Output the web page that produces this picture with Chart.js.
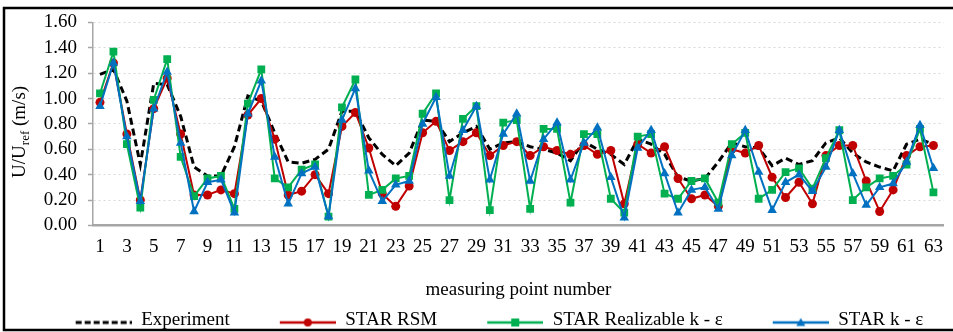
<!DOCTYPE html>
<html lang="en">
<head>
  <meta charset="UTF-8">
  <title>U/Uref along measuring points</title>
  <script src="https://cdn.jsdelivr.net/npm/chart.js"></script>
  <style>
    html, body { margin: 0; padding: 0; background: #fff; }
    #wrap { width: 953px; height: 332px; }
  </style>
</head>
<body>
  <div id="wrap"><canvas id="myChart" width="953" height="332"></canvas></div>

  <script>
    // measuring point numbers 1..63 and the odd ones shown on the axis
    const points = Array.from({ length: 63 }, (_, i) => i + 1);
    const xTicks = points.filter(p => p % 2 === 1);
    const yTicks = [0, 0.2, 0.4, 0.6, 0.8, 1.0, 1.2, 1.4, 1.6];

    const experiment = [
      1.19, 1.23, 0.98, 0.48, 1.12, 1.11, 0.86, 0.46, 0.39, 0.39,
      0.62, 1.02, 0.98, 0.73, 0.50, 0.49, 0.52, 0.60, 0.90, 0.90,
      0.69, 0.56, 0.47, 0.57, 0.83, 0.82, 0.66, 0.73, 0.78, 0.60,
      0.65, 0.66, 0.62, 0.60, 0.57, 0.51, 0.66, 0.60, 0.56, 0.48,
      0.68, 0.64, 0.56, 0.38, 0.35, 0.37, 0.50, 0.65, 0.62, 0.61,
      0.47, 0.53, 0.48, 0.51, 0.65, 0.69, 0.57, 0.50, 0.46, 0.43,
      0.64, 0.68, 0.64
    ];
    const starRsm = [
      0.97, 1.28, 0.72, 0.20, 0.92, 1.16, 0.72, 0.24, 0.24, 0.28,
      0.25, 0.87, 1.00, 0.68, 0.24, 0.27, 0.40, 0.25, 0.78, 0.89,
      0.61, 0.25, 0.15, 0.31, 0.73, 0.82, 0.59, 0.66, 0.73, 0.55,
      0.63, 0.66, 0.55, 0.62, 0.59, 0.56, 0.63, 0.56, 0.59, 0.17,
      0.64, 0.57, 0.62, 0.37, 0.21, 0.24, 0.15, 0.60, 0.57, 0.63,
      0.38, 0.22, 0.34, 0.17, 0.55, 0.63, 0.63, 0.35, 0.11, 0.28,
      0.55, 0.62, 0.63
    ];
    const starRealizable = [
      1.04, 1.37, 0.64, 0.14, 0.99, 1.31, 0.54, 0.23, 0.37, 0.39,
      0.13, 0.96, 1.23, 0.37, 0.30, 0.44, 0.48, 0.07, 0.93, 1.15,
      0.24, 0.28, 0.37, 0.39, 0.88, 1.04, 0.20, 0.84, 0.94, 0.12,
      0.81, 0.83, 0.13, 0.76, 0.76, 0.18, 0.72, 0.72, 0.21, 0.10,
      0.70, 0.72, 0.25, 0.21, 0.35, 0.37, 0.18, 0.64, 0.73, 0.21,
      0.28, 0.42, 0.45, 0.29, 0.53, 0.75, 0.20, 0.30, 0.37, 0.39,
      0.48, 0.76, 0.26
    ];
    const starKe = [
      0.94, 1.28, 0.70, 0.19, 0.92, 1.21, 0.65, 0.11, 0.34, 0.36,
      0.10, 0.88, 1.14, 0.54, 0.17, 0.41, 0.46, 0.07, 0.83, 1.08,
      0.43, 0.19, 0.32, 0.35, 0.80, 1.01, 0.39, 0.75, 0.94, 0.36,
      0.72, 0.88, 0.35, 0.68, 0.81, 0.36, 0.65, 0.77, 0.38, 0.06,
      0.61, 0.75, 0.41, 0.10, 0.28, 0.30, 0.13, 0.55, 0.75, 0.42,
      0.12, 0.34, 0.40, 0.27, 0.46, 0.75, 0.41, 0.16, 0.30, 0.33,
      0.50, 0.79, 0.45
    ];

    const RED = '#C00000';
    const GREEN = '#00B050';
    const BLUE = '#0070C0';
    const FONT = '"Liberation Serif", "Times New Roman", serif';

    const xy = arr => arr.map((v, i) => ({ x: points[i], y: v }));

    // legend symbol: blank lead-in, then a short line with the marker in its middle
    const ICON_W = 102, LINE_W = 56;
    function legendIcon(color, marker, dashed) {
      const c = document.createElement('canvas');
      c.width = ICON_W; c.height = 16;
      const g = c.getContext('2d');
      const x0 = ICON_W - LINE_W, cx = x0 + LINE_W / 2, cy = 10;
      g.strokeStyle = color;
      g.fillStyle = color;
      g.lineWidth = dashed ? 3 : 2.5;
      if (dashed) g.setLineDash([6, 3]);
      g.beginPath(); g.moveTo(x0, cy); g.lineTo(ICON_W, cy); g.stroke();
      g.setLineDash([]);
      g.beginPath();
      if (marker === 'circle') g.arc(cx, cy, 4, 0, Math.PI * 2);
      if (marker === 'rect') g.rect(cx - 4, cy - 4, 8, 8);
      if (marker === 'triangle') { g.moveTo(cx, cy - 4.5); g.lineTo(cx + 4.5, cy + 3.5); g.lineTo(cx - 4.5, cy + 3.5); g.closePath(); }
      if (marker) g.fill();
      return c;
    }

    // outer frame (top, left, bottom) and white background
    const framePlugin = {
      id: 'frame',
      beforeDraw(chart) {
        const ctx = chart.ctx;
        ctx.save();
        ctx.fillStyle = '#fff';
        ctx.fillRect(0, 0, chart.width, chart.height);
        ctx.strokeStyle = '#000';
        ctx.lineWidth = 2.5;
        ctx.beginPath();
        ctx.moveTo(chart.width, 8);
        ctx.lineTo(4, 8);
        ctx.lineTo(4, 330);
        ctx.lineTo(chart.width, 330);
        ctx.stroke();
        ctx.restore();
      }
    };

    // rotated y title with a subscript "ref"
    const yTitlePlugin = {
      id: 'yTitle',
      afterDraw(chart) {
        const ctx = chart.ctx;
        const area = chart.chartArea;
        const parts = [
          { t: 'U/U', size: 19, dy: 0 },
          { t: 'ref', size: 13, dy: 4 },
          { t: ' (m/s)', size: 19, dy: 0 }
        ];
        ctx.save();
        let total = 0;
        parts.forEach(p => { ctx.font = p.size + 'px ' + FONT; p.w = ctx.measureText(p.t).width; total += p.w; });
        ctx.translate(25, (area.top + area.bottom) / 2 + 8);
        ctx.rotate(-Math.PI / 2);
        ctx.fillStyle = '#000';
        ctx.textBaseline = 'alphabetic';
        let x = -total / 2;
        parts.forEach(p => {
          ctx.font = p.size + 'px ' + FONT;
          ctx.fillText(p.t, x, p.dy);
          x += p.w;
        });
        ctx.restore();
      }
    };

    const ctx = document.getElementById('myChart').getContext('2d');
    new Chart(ctx, {
      type: 'line',
      data: {
        datasets: [
          {
            label: 'Experiment',
            data: xy(experiment),
            borderColor: '#000',
            borderWidth: 3,
            borderDash: [7, 4],
            pointRadius: 0,
            order: 4,
            legendIcon: legendIcon('#000', null, true)
          },
          {
            label: 'STAR RSM',
            data: xy(starRsm),
            borderColor: RED,
            backgroundColor: RED,
            borderWidth: 2,
            pointStyle: 'circle',
            pointRadius: 4.5,
            pointBorderWidth: 0,
            order: 3,
            legendIcon: legendIcon(RED, 'circle')
          },
          {
            label: 'STAR Realizable k - ε',
            data: xy(starRealizable),
            borderColor: GREEN,
            backgroundColor: GREEN,
            borderWidth: 2,
            pointStyle: 'rect',
            pointRadius: 5.5,
            pointBorderWidth: 0,
            order: 2,
            legendIcon: legendIcon(GREEN, 'rect')
          },
          {
            label: 'STAR k - ε',
            data: xy(starKe),
            borderColor: BLUE,
            backgroundColor: BLUE,
            borderWidth: 2,
            pointStyle: 'triangle',
            pointRadius: 5.5,
            pointBorderWidth: 0,
            order: 1,
            legendIcon: legendIcon(BLUE, 'triangle')
          }
        ]
      },
      options: {
        responsive: false,
        animation: false,
        tension: 0,
        layout: { padding: { top: 3, left: 0, right: 0, bottom: 0 } },
        plugins: {
          tooltip: { enabled: false },
          legend: {
            position: 'bottom',
            maxHeight: 25,
            labels: {
              usePointStyle: true,
              pointStyleWidth: ICON_W,
              boxHeight: 16,
              padding: 4,
              color: '#000',
              font: { family: FONT, size: 19 },
              generateLabels(chart) {
                return chart.data.datasets.map((ds, i) => ({
                  text: ds.label,
                  pointStyle: ds.legendIcon,
                  fillStyle: ds.borderColor,
                  strokeStyle: ds.borderColor,
                  lineWidth: 0,
                  fontColor: '#000',
                  datasetIndex: i,
                  hidden: false
                }));
              }
            }
          }
        },
        scales: {
          x: {
            type: 'linear',
            min: 0.48,
            max: 63.78,
            afterBuildTicks(axis) { axis.ticks = xTicks.map(v => ({ value: v })); },
            ticks: {
              autoSkip: false,
              maxRotation: 0,
              padding: 10,
              color: '#000',
              font: { family: FONT, size: 19 },
              callback: v => String(v)
            },
            grid: { display: false, drawTicks: false },
            border: { display: true, color: '#A6A6A6', width: 2.5 },
            title: {
              display: true,
              text: 'measuring point number',
              color: '#000',
              font: { family: FONT, size: 19 },
              padding: { top: 10, bottom: 6 }
            }
          },
          y: {
            min: 0,
            max: 1.6,
            afterBuildTicks(axis) { axis.ticks = yTicks.map(v => ({ value: v })); },
            afterFit(axis) { axis.width = 93; },
            ticks: {
              autoSkip: false,
              padding: 11,
              color: '#000',
              font: { family: FONT, size: 19 },
              callback: v => v.toFixed(2)
            },
            grid: {
              color: '#D9D9D9',
              lineWidth: 1,
              tickLength: 5,
              tickColor: '#A6A6A6',
              tickWidth: 1.5
            },
            border: { display: true, color: '#A6A6A6', width: 1.5, dash: [2, 3] }
          }
        }
      },
      plugins: [framePlugin, yTitlePlugin]
    });
  </script>
</body>
</html>
